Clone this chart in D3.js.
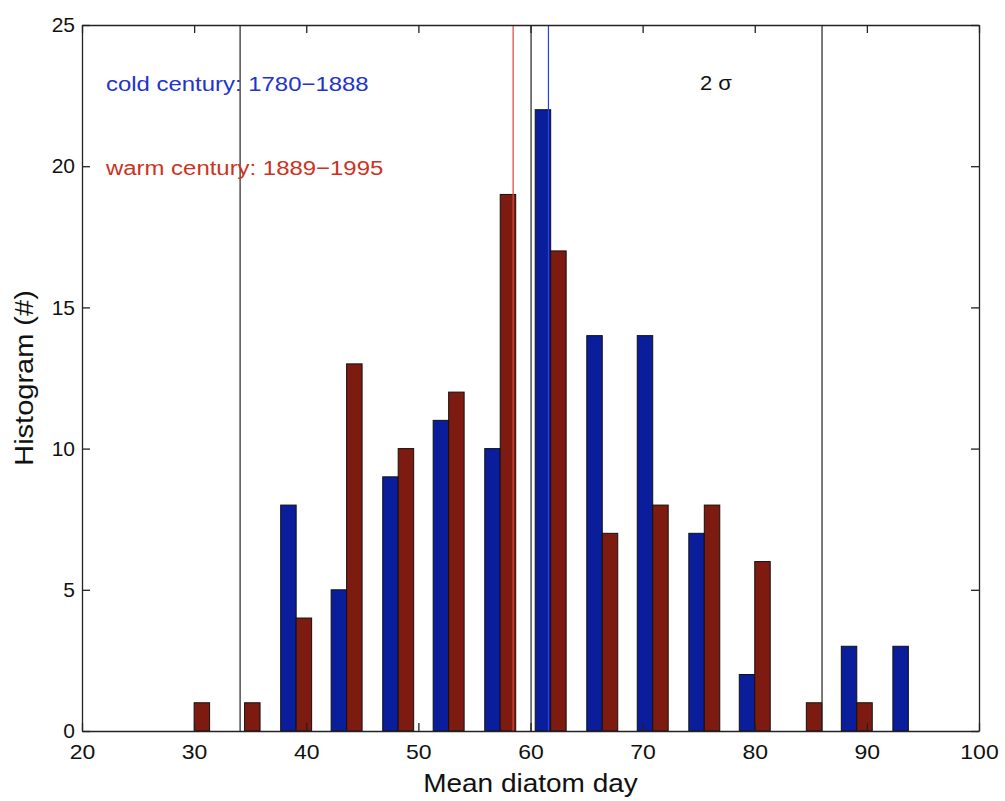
<!DOCTYPE html>
<html>
<head>
<meta charset="utf-8">
<script src="https://cdnjs.cloudflare.com/ajax/libs/d3/7.8.5/d3.min.js"></script>
<style>
  body { margin: 0; background: #fff; }
  text { font-family: "Liberation Sans", Arial, Helvetica, sans-serif; }
</style>
</head>
<body>
<div id="chart"></div>
<script>
// bin centres (mean diatom day) and counts
var binCenters = [30.0, 34.5, 39.1, 43.6, 48.2, 52.7, 57.3, 61.8, 66.4, 70.9, 75.5, 80.0, 84.6, 89.1, 93.7];
var coldCounts = [0, 0, 8, 5, 9, 11, 10, 22, 14, 14, 7, 2, 0, 3, 3];
var warmCounts = [1, 1, 4, 13, 10, 12, 19, 17, 7, 8, 8, 6, 1, 1, 0];

var xTicks = [20, 30, 40, 50, 60, 70, 80, 90, 100];
var yTicks = [0, 5, 10, 15, 20, 25];

// reference lines: overall mean +/- 2 sigma, and the two century means
var allMean = 60.05;
var twoSigma = 25.95;
var warmMean = 58.45;
var coldMean = 61.6;

var labels = {
  cold: "cold century: 1780\u22121888",
  warm: "warm century: 1889\u22121995"
};

var width = 1005;
var height = 801;
var margin = { top: 25, right: 26, bottom: 70, left: 82 };

var svg = d3.select("#chart").append("svg")
  .attr("width", width)
  .attr("height", height);

var x = d3.scaleLinear().domain([20, 100]).range([margin.left, width - margin.right]);
var y = d3.scaleLinear().domain([0, 25]).range([height - margin.bottom, margin.top]);

var barW = 1.38; // width of one bar in data units

var bins = binCenters.map(function (c, i) {
  return { c: c, cold: coldCounts[i], warm: warmCounts[i] };
});

var blue = "#0a1e9c";
var red = "#7e1b10";

// bars
svg.selectAll(".cold").data(bins.filter(function (d) { return d.cold > 0; }))
  .enter().append("rect")
  .attr("class", "cold")
  .attr("x", function (d) { return x(d.c - barW); })
  .attr("width", function (d) { return x(d.c) - x(d.c - barW); })
  .attr("y", function (d) { return y(d.cold); })
  .attr("height", function (d) { return y(0) - y(d.cold); })
  .attr("fill", blue)
  .attr("stroke", "#111")
  .attr("stroke-width", 1);

svg.selectAll(".warm").data(bins.filter(function (d) { return d.warm > 0; }))
  .enter().append("rect")
  .attr("class", "warm")
  .attr("x", function (d) { return x(d.c); })
  .attr("width", function (d) { return x(d.c + barW) - x(d.c); })
  .attr("y", function (d) { return y(d.warm); })
  .attr("height", function (d) { return y(0) - y(d.warm); })
  .attr("fill", red)
  .attr("stroke", "#111")
  .attr("stroke-width", 1);

// vertical lines
var vlines = [
  { v: allMean - twoSigma, c: "#222" },
  { v: allMean, c: "#222" },
  { v: allMean + twoSigma, c: "#222" },
  { v: warmMean, c: "#e0463a" },
  { v: coldMean, c: "#2a3fe0" }
];
svg.selectAll(".vline").data(vlines).enter().append("line")
  .attr("class", "vline")
  .attr("x1", function (d) { return x(d.v); })
  .attr("x2", function (d) { return x(d.v); })
  .attr("y1", y(25))
  .attr("y2", y(0))
  .attr("stroke", function (d) { return d.c; })
  .attr("stroke-width", 1.2);

// axes, MATLAB style: ticks inside on all four sides
var tickLen = 8;
var gx = svg.append("g").attr("transform", "translate(0," + y(0) + ")")
  .call(d3.axisBottom(x).tickValues(xTicks).tickSizeInner(-tickLen).tickSizeOuter(0).tickPadding(14));
var gxt = svg.append("g").attr("transform", "translate(0," + y(25) + ")")
  .call(d3.axisTop(x).tickValues(xTicks).tickSizeInner(-tickLen).tickSizeOuter(0).tickFormat(""));
var gy = svg.append("g").attr("transform", "translate(" + x(20) + ",0)")
  .call(d3.axisLeft(y).tickValues(yTicks).tickSizeInner(-tickLen).tickSizeOuter(0).tickPadding(7));
var gyr = svg.append("g").attr("transform", "translate(" + x(100) + ",0)")
  .call(d3.axisRight(y).tickValues(yTicks).tickSizeInner(-tickLen).tickSizeOuter(0).tickFormat(""));

[gx, gxt, gy, gyr].forEach(function (g) {
  g.select(".domain").attr("stroke", "#222").attr("stroke-width", 1.3);
  g.selectAll(".tick line").attr("stroke", "#222").attr("stroke-width", 1.3);
  g.selectAll(".tick text").attr("fill", "#111").style("font-size", "20px")
    .style("font-family", "'Liberation Sans', Arial, sans-serif");
});
// the reference glyphs are a bit wider than Arial
gx.selectAll(".tick text").attr("transform", "scale(1.15,1)");
gy.selectAll(".tick text").style("font-size", "21px");

// axis titles
svg.append("text")
  .attr("transform", "translate(" + x(60) + ",792) scale(1.12,1)")
  .attr("text-anchor", "middle")
  .style("font-size", "25px")
  .attr("fill", "#111")
  .text("Mean diatom day");

svg.append("text")
  .attr("transform", "translate(33," + y(12.5) + ") rotate(-90) scale(1.16,1)")
  .attr("text-anchor", "middle")
  .style("font-size", "25px")
  .attr("fill", "#111")
  .text("Histogram (#)");

// annotations
svg.append("text")
  .attr("transform", "translate(106,91) scale(1.14,1)")
  .style("font-size", "21px")
  .attr("fill", "#2233cc")
  .text(labels.cold);

svg.append("text")
  .attr("transform", "translate(106,175) scale(1.14,1)")
  .style("font-size", "21px")
  .attr("fill", "#cc3322")
  .text(labels.warm);

svg.append("text")
  .attr("transform", "translate(700,90) scale(1.1,1)")
  .style("font-size", "20px")
  .attr("fill", "#111")
  .text("2 \u03c3");
</script>
</body>
</html>
